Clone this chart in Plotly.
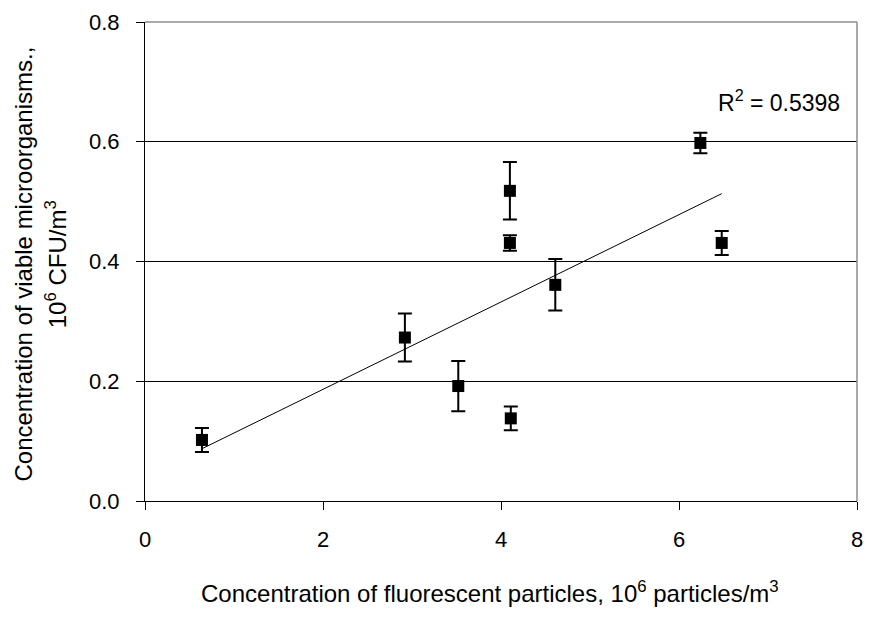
import numpy as np
import plotly.graph_objects as go

# Data
fluorescent = [0.64, 2.92, 3.52, 4.11, 4.10, 4.10, 4.61, 6.24, 6.48]
viable = [0.102, 0.273, 0.192, 0.138, 0.431, 0.518, 0.361, 0.598, 0.431]
viable_err = [0.020, 0.040, 0.042, 0.020, 0.013, 0.048, 0.043, 0.017, 0.020]
r2_label = "R<sup>2</sup> = 0.5398"
x_ticks = [0, 2, 4, 6, 8]
y_ticks = [0.0, 0.2, 0.4, 0.6, 0.8]

W, H = 873, 619
L, R, T, B = 145, 10, 21, 118
PW, PH = W - L - R, H - T - B


def px(xp):
    return (xp - L) / PW


def py(yp):
    return (H - B - yp) / PH


FONT = "Liberation Sans, Arial, sans-serif"

slope, intercept = np.polyfit(fluorescent, viable, 1)
xfit = np.array([min(fluorescent), max(fluorescent)])
yfit = slope * xfit + intercept

fig = go.Figure()
fig.add_trace(go.Scatter(x=xfit, y=yfit, mode="lines",
                         line=dict(color="black", width=1), showlegend=False,
                         hoverinfo="skip"))
fig.add_trace(go.Scatter(x=fluorescent, y=viable, mode="markers",
                         marker=dict(symbol="square", size=12, color="black"),
                         error_y=dict(type="data", array=viable_err, visible=True,
                                      color="black", thickness=2, width=7),
                         showlegend=False))

fig.update_layout(
    width=W, height=H,
    margin=dict(l=L, r=R, t=T, b=B, pad=0),
    paper_bgcolor="white", plot_bgcolor="white",
    font=dict(family=FONT, color="black", size=22),
    xaxis=dict(range=[0, 8], tickvals=x_ticks, showgrid=False, zeroline=False,
               showline=True, linecolor="black", linewidth=1,
               ticks="outside", ticklen=8, tickcolor="black", tickwidth=1,
               ticklabelstandoff=11, tickfont=dict(size=22)),
    yaxis=dict(range=[0, 0.8], tickvals=y_ticks, tickformat=".1f",
               showgrid=True, gridcolor="black", gridwidth=1, zeroline=False,
               showline=True, linecolor="black", linewidth=1,
               ticks="outside", ticklen=8, tickcolor="black", tickwidth=1,
               ticklabelstandoff=12, tickfont=dict(size=22)),
    shapes=[
        dict(type="line", xref="paper", yref="paper", x0=0, x1=1, y0=1, y1=1,
             line=dict(color="#8c8c8c", width=1.5), layer="above"),
        dict(type="line", xref="paper", yref="paper", x0=1, x1=1, y0=0, y1=1,
             line=dict(color="#8c8c8c", width=1.5), layer="above"),
    ],
    annotations=[
        dict(text=r2_label, x=px(721), y=py(100), xref="paper", yref="paper",
             xanchor="left", yanchor="middle", showarrow=False,
             font=dict(size=23)),
        dict(text="Concentration of fluorescent particles, 10<sup>6</sup> particles/m<sup>3</sup>",
             x=px(493), y=py(592), xref="paper", yref="paper",
             xanchor="center", yanchor="middle", showarrow=False,
             font=dict(size=24)),
        dict(text="Concentration of viable microorganisms.,",
             x=px(22), y=py(264), xref="paper", yref="paper", textangle=-90,
             xanchor="center", yanchor="middle", showarrow=False,
             font=dict(size=24)),
        dict(text="10<sup>6</sup> CFU/m<sup>3</sup>",
             x=px(56), y=py(264), xref="paper", yref="paper", textangle=-90,
             xanchor="center", yanchor="middle", showarrow=False,
             font=dict(size=24)),
    ],
)

fig.write_html("out.html")
